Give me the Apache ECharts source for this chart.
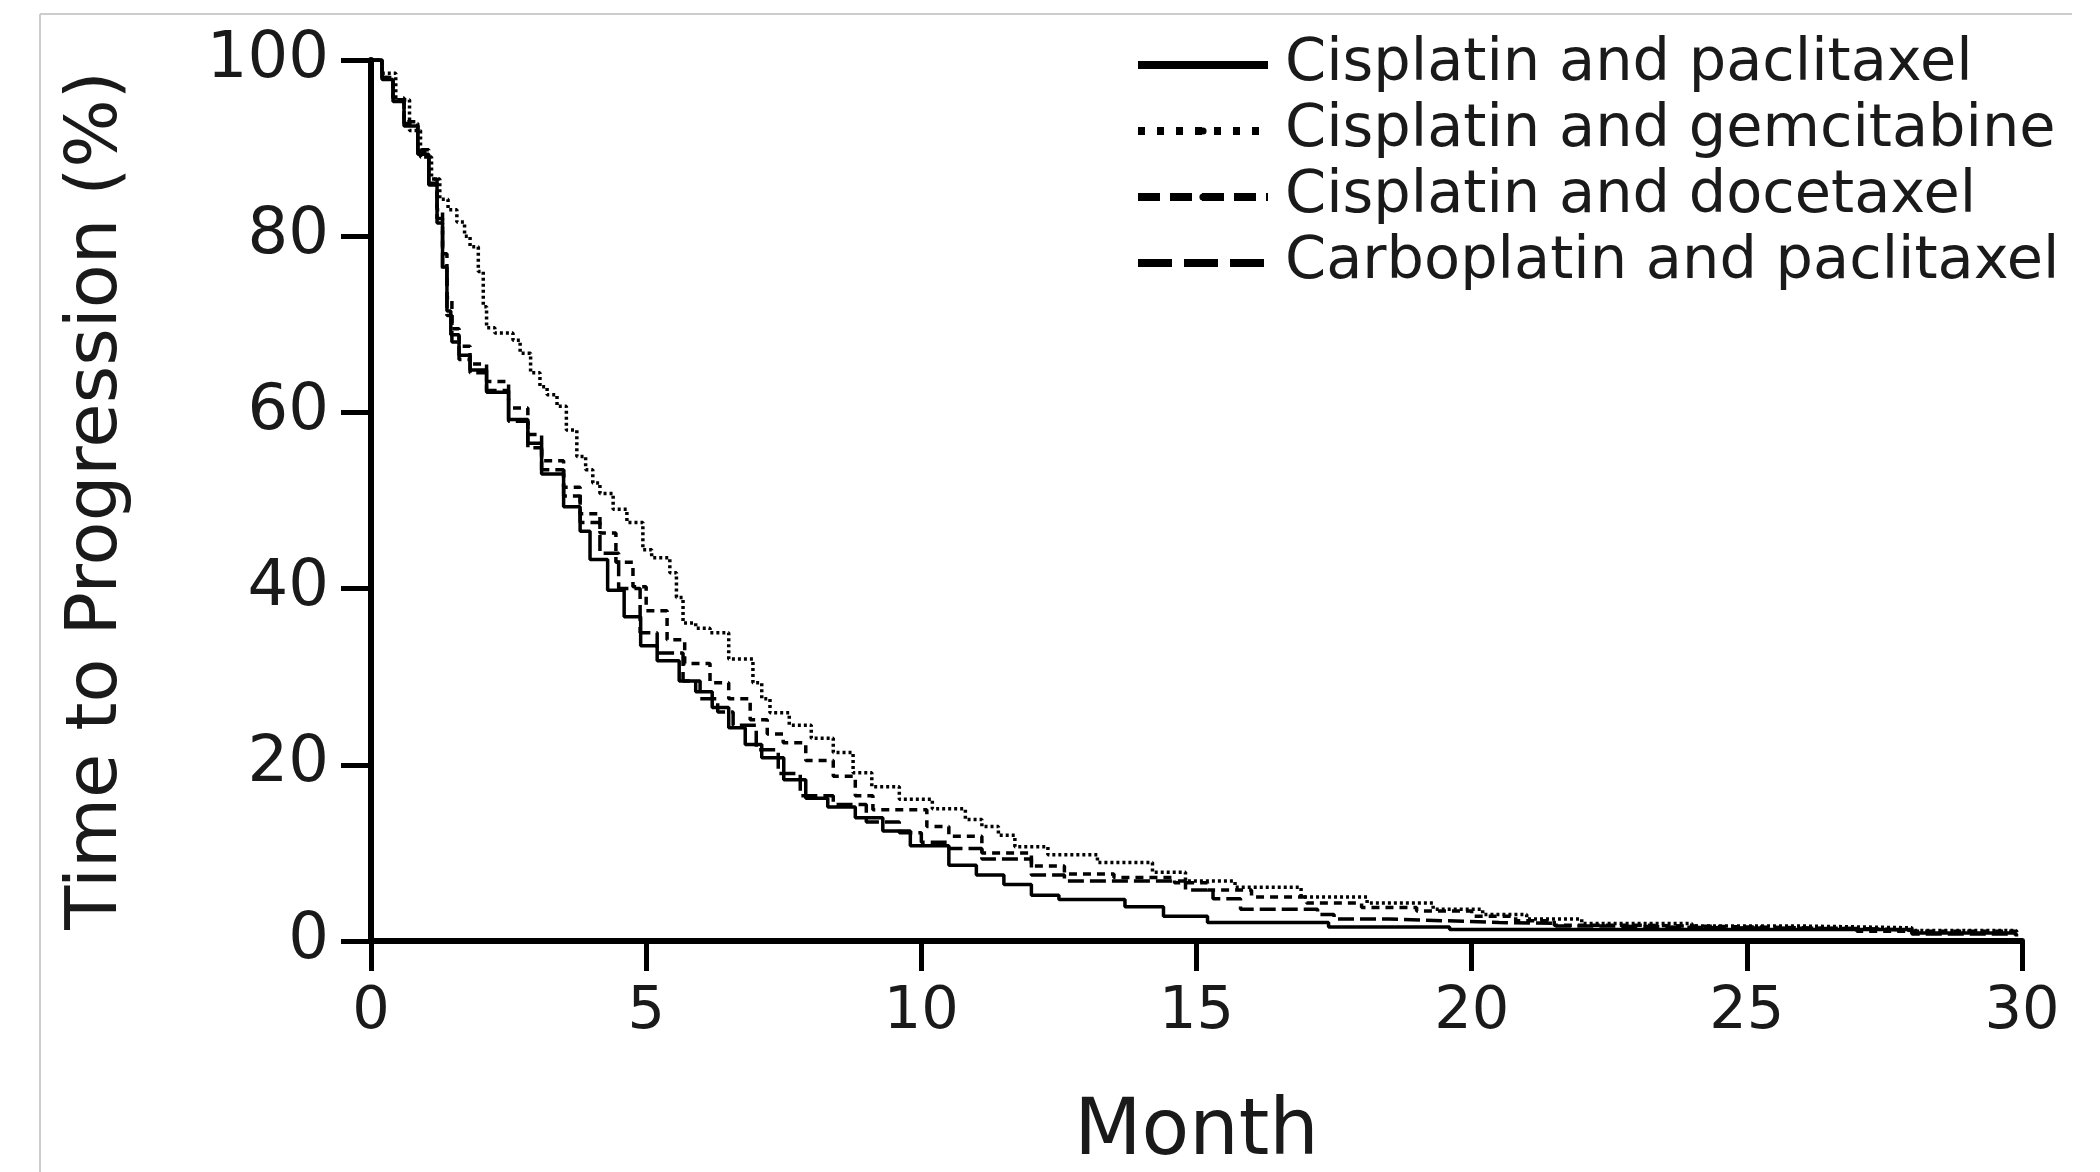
<!DOCTYPE html>
<html>
<head>
<meta charset="utf-8">
<script src="https://cdn.jsdelivr.net/npm/echarts@6/dist/echarts.min.js"></script>
<style>
html,body{margin:0;padding:0;background:#fff;}
#chart{width:2100px;height:1172px;}
</style>
</head>
<body>
<div id="chart"></div>
<script>
// ---- Data (month, % without progression) ----
const seriesNames = ['Cisplatin and paclitaxel', 'Cisplatin and gemcitabine', 'Cisplatin and docetaxel', 'Carboplatin and paclitaxel'];

const cisPaclitaxel = [[0,100],[0.2,97.8],[0.4,95.3],[0.6,92.5],[0.85,89.3],[1.05,85.8],[1.2,81.5],[1.3,76.5],[1.38,71.5],[1.45,68.8],[1.6,66.5],[1.8,64.8],[2.1,62.3],[2.5,59.2],[2.85,56.5],[3.1,53],[3.5,49.3],[3.8,46.5],[3.98,43.3],[4.3,39.8],[4.6,36.8],[4.9,33.5],[5.2,31.8],[5.6,29.5],[5.9,28.3],[6.2,26.5],[6.5,24.2],[6.8,22.3],[7.1,20.8],[7.5,18.3],[7.9,16.2],[8.3,15.2],[8.8,14.0],[9.3,12.5],[9.8,10.8],[10.5,8.6],[11.0,7.5],[11.5,6.4],[12.0,5.2],[12.5,4.7],[13.7,3.9],[14.4,2.8],[15.2,2.1],[17.4,1.6],[19.6,1.3],[27.2,1.3],[28.0,0.9],[29.9,0.9]];

const cisGemcitabine = [[0,100],[0.2,98.5],[0.45,95.5],[0.7,92],[0.9,89],[1.1,86.5],[1.25,84.2],[1.4,83],[1.56,81.6],[1.7,80],[1.8,78.8],[1.95,76],[2.04,72],[2.1,69.6],[2.25,69],[2.58,68.2],[2.71,66.7],[2.9,64.5],[3.07,62.9],[3.2,62],[3.38,60.7],[3.55,58],[3.74,55],[3.9,53.5],[4.03,52],[4.16,50.8],[4.4,49],[4.65,47.5],[4.94,44.4],[5.1,43.5],[5.43,41.8],[5.55,39],[5.67,36.1],[5.9,35.5],[6.16,35],[6.5,32],[6.94,29.3],[7.1,27.5],[7.25,25.9],[7.6,24.5],[8.0,23],[8.4,21.4],[8.76,19.1],[9.1,17.5],[9.6,16.1],[10.2,15],[10.8,13.8],[11.1,13],[11.4,12],[11.7,10.7],[12.3,9.8],[13.2,8.9],[14.2,7.8],[14.8,6.8],[15.7,6.1],[16.9,5.0],[18.1,4.3],[19.3,3.6],[20.2,3.0],[21.0,2.5],[22.0,2.0],[24.0,1.7],[26.0,1.5],[28.0,1.2],[29.9,1.0]];

const cisDocetaxel = [[0,100],[0.2,98],[0.4,95.7],[0.6,93],[0.85,89.8],[1.05,86.5],[1.2,83],[1.3,78],[1.38,73],[1.47,69.5],[1.6,67.5],[1.8,65.5],[2.1,63.5],[2.5,60.5],[2.85,57.5],[3.1,54.5],[3.5,51.5],[3.8,48.5],[4.16,46.3],[4.45,43],[4.76,40.2],[5.0,37.5],[5.38,34.2],[5.7,31.5],[6.16,29.3],[6.5,27.5],[6.89,25.1],[7.2,23.5],[7.49,22.5],[7.9,20.5],[8.4,18.7],[8.8,16.5],[9.12,14.9],[10.1,13],[10.5,11.9],[11.1,10],[12,8.5],[12.6,7.6],[13.5,7.2],[14.6,6.6],[15.2,5.8],[16,5.0],[17,4.3],[18,3.8],[19,3.4],[20,2.8],[20.8,2.3],[21.5,1.8],[23,1.6],[25,1.4],[27,1.1],[29.9,0.7]];

const carboPaclitaxel = [[0,100],[0.2,98],[0.4,95.5],[0.6,92.8],[0.85,89.5],[1.05,86],[1.2,82],[1.3,76],[1.38,71],[1.47,68],[1.6,66],[1.8,64.5],[2.1,62.5],[2.5,59],[2.85,56],[3.1,53.5],[3.5,50.5],[3.8,47.5],[4.16,44],[4.5,40],[4.89,35],[5.2,32.7],[5.67,29.5],[5.98,27.5],[6.3,26],[6.58,24.5],[7.0,21.7],[7.4,19],[7.8,16.5],[8.4,15.5],[9.0,13.5],[9.6,12.3],[10.0,11.2],[10.5,10.5],[11.1,9.3],[12,7.5],[12.6,6.8],[14.8,5.8],[15.3,4.8],[15.8,3.6],[17.2,3.0],[17.5,2.5],[18.5,2.3],[19.5,2.1],[20.5,2.0],[21.5,1.7],[22.5,1.5],[24.5,1.4],[27.2,1.2],[28,0.8],[29.9,0.5]];

const xTicks = [0, 5, 10, 15, 20, 25, 30];
const yTicks = [0, 20, 40, 60, 80, 100];
const xTitle = 'Month';
const yTitle = 'Time to Progression (%)';

// ---- Styles ----
const FONT = 'DejaVu Sans';
const seriesData = [cisPaclitaxel, cisGemcitabine, cisDocetaxel, carboPaclitaxel];
const curveDash = ['solid', [3, 3], [8, 6], [16, 6]];
const legendDash = ['solid', [7, 12], [22, 10], [34, 12]];

const chart = echarts.init(document.getElementById('chart'), null, {renderer: 'canvas'});

const option = {
  animation: false,
  backgroundColor: '#ffffff',
  grid: { left: 371, right: 78, top: 60, bottom: 231, containLabel: false, outerBoundsMode: 'none' },
  xAxis: {
    type: 'value', min: xTicks[0], max: xTicks[xTicks.length - 1], interval: 5,
    name: xTitle, nameLocation: 'middle', nameGap: 154,
    nameTextStyle: { fontFamily: FONT, fontSize: 78, color: '#1a1a1a' },
    axisLine: { show: true, onZero: false, lineStyle: { color: '#000', width: 6 } },
    axisTick: { show: true, inside: false, length: 30, lineStyle: { color: '#000', width: 5 } },
    axisLabel: { fontFamily: FONT, fontSize: 59, color: '#1a1a1a', margin: 42 },
    splitLine: { show: false }
  },
  yAxis: {
    type: 'value', min: yTicks[0], max: yTicks[yTicks.length - 1], interval: 20,
    name: yTitle, nameLocation: 'middle', nameGap: 238, nameRotate: 90,
    nameTextStyle: { fontFamily: FONT, fontSize: 72, color: '#1a1a1a' },
    axisLine: { show: true, onZero: false, lineStyle: { color: '#000', width: 6 } },
    axisTick: { show: true, inside: false, length: 30, lineStyle: { color: '#000', width: 5 } },
    axisLabel: { fontFamily: FONT, fontSize: 64, color: '#1a1a1a', margin: 42 },
    splitLine: { show: false }
  },
  legend: {
    orient: 'vertical', left: 1129, top: 27,
    itemWidth: 130, itemHeight: 9, itemGap: 0,
    textStyle: { fontFamily: FONT, fontSize: 59, color: '#1a1a1a', lineHeight: 66, padding: [0, 0, 0, 12] },
    data: seriesNames.map((n, i) => ({ name: n, lineStyle: { width: 8, type: legendDash[i], color: '#000' } }))
  },
  graphic: [
    { type: 'line', shape: { x1: 40, y1: 14, x2: 2072, y2: 14 }, style: { stroke: '#cccccc', lineWidth: 2 }, silent: true },
    { type: 'line', shape: { x1: 40, y1: 14, x2: 40, y2: 1172 }, style: { stroke: '#cccccc', lineWidth: 2 }, silent: true }
  ],
  series: seriesNames.map((n, i) => ({
    name: n, type: 'line', step: 'end', symbol: 'none', showSymbol: false,
    data: seriesData[i],
    lineStyle: { color: '#000', width: 3.5, type: curveDash[i] },
    itemStyle: { color: '#000' },
    z: 3 + (i === 0 ? 1 : 0)
  }))
};

chart.setOption(option);
</script>
</body>
</html>
